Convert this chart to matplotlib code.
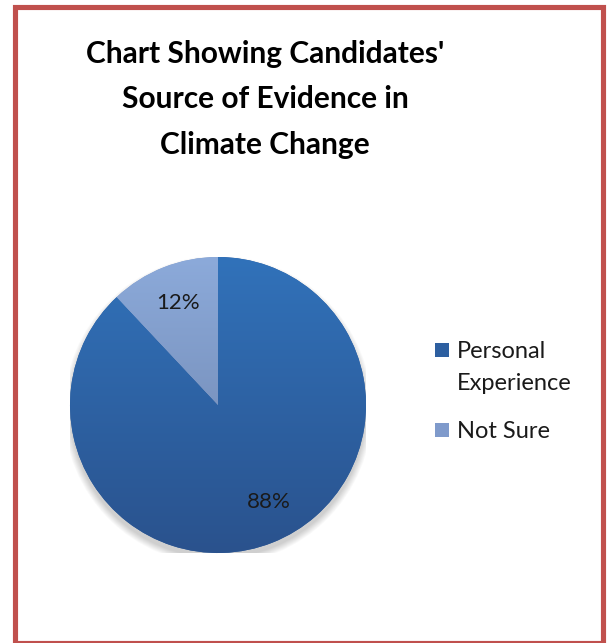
import numpy as np
import matplotlib.pyplot as plt
from matplotlib.colors import LinearSegmentedColormap
from matplotlib.patches import Rectangle, Circle

labels = ["Personal\nExperience", "Not Sure"]
shares = [88, 12]

# gradient colours (top, bottom) for each slice
slice_top = ["#3172BA", "#8CAADA"]
slice_bottom = ["#2A528D", "#6A80A8"]
legend_colors = ["#2D5FA0", "#7F9ACB"]

W, H = 609, 643
fig = plt.figure(figsize=(W / 100, H / 100), dpi=100, facecolor="white")
plt.rcParams["font.family"] = ["Lato", "DejaVu Sans"]

# red frame around the whole chart
fig.patches.append(Rectangle((14.5 / W, 0.5 / H), 588 / W, 636 / H,
                             transform=fig.transFigure, fill=False,
                             edgecolor="#C0504D", linewidth=3.7))

# title, one line at a time
title_lines = ["Chart Showing Candidates'", "Source of Evidence in", "Climate Change"]
for i, line in enumerate(title_lines):
    fig.text(265 / W, 1 - (54 + 45.5 * i) / H, line, ha="center", va="center",
             fontsize=21.5, fontweight="bold", color="black")

# pie axes: centre (218, 405), radius 148 px
cx, cy, r = 218, 405, 148
ax = fig.add_axes([(cx - r) / W, 1 - (cy + r) / H, 2 * r / W, 2 * r / H])

# soft shadow below the pie
for k in range(8):
    ax.add_patch(Circle((0, -0.035), 1.0 + 0.006 * k, color="black",
                        alpha=0.025, zorder=0, lw=0))

wedges, texts, autotexts = ax.pie(
    shares, startangle=90, counterclock=False, colors=legend_colors,
    autopct="%d%%", pctdistance=0.74,
    textprops=dict(fontsize=16, color="#1a1a1a"),
    wedgeprops=dict(linewidth=0))

grad = np.linspace(1, 0, 256).reshape(-1, 1)
for w, top, bot in zip(wedges, slice_top, slice_bottom):
    w.set_zorder(1)
    cmap = LinearSegmentedColormap.from_list("g", [bot, top])
    im = ax.imshow(grad, cmap=cmap, extent=[-1, 1, -1, 1], aspect="auto",
                   zorder=2, origin="upper")
    im.set_clip_path(w)

# labels sit a little off the slice bisector, as in the spreadsheet layout
label_shift = [6, 0]
for w, t, d in zip(wedges, autotexts, label_shift):
    ang = np.deg2rad((w.theta1 + w.theta2) / 2 + d)
    t.set_position((0.74 * np.cos(ang), 0.74 * np.sin(ang)))
    t.set_zorder(3)

ax.set_xlim(-1, 1)
ax.set_ylim(-1, 1)
ax.set_aspect("equal")
ax.axis("off")

# legend: square next to the first line of each entry
legend_y = [350, 430]
line_gap = 31
for lab, c, y in zip(labels, legend_colors, legend_y):
    fig.patches.append(Rectangle((435 / W, 1 - (y + 7) / H), 14 / W, 14 / H,
                                 transform=fig.transFigure, facecolor=c,
                                 edgecolor="none"))
    for j, part in enumerate(lab.split("\n")):
        fig.text(457 / W, 1 - (y + j * line_gap) / H, part, ha="left",
                 va="center_baseline", fontsize=17, color="#1a1a1a")

fig.savefig("out.png", dpi=100, facecolor="white")
